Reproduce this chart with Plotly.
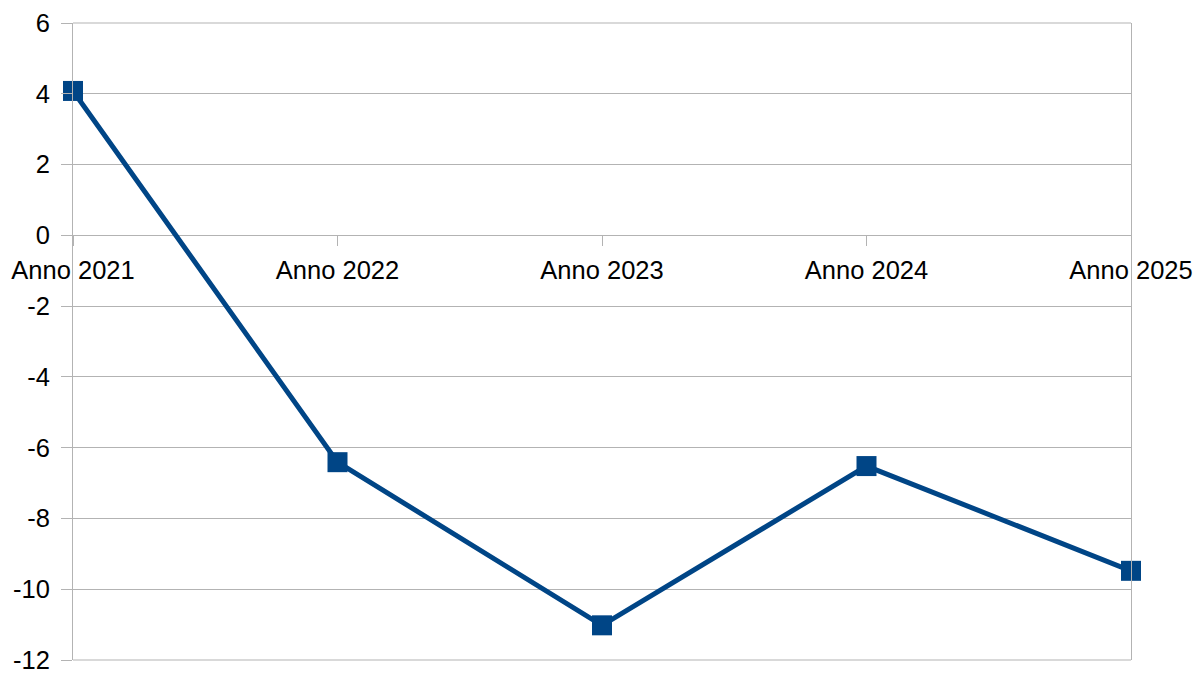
import plotly.graph_objects as go

categories = ["Anno 2021", "Anno 2022", "Anno 2023", "Anno 2024", "Anno 2025"]
values = [4.08, -6.41, -11.02, -6.52, -9.48]
y_ticks = [6, 4, 2, 0, -2, -4, -6, -8, -10, -12]
y_tick_text = ["6", "4", "2", "0", "-2", "-4", "-6", "-8", "-10", "-12"]

grid = "#b3b3b3"
font = dict(family="Liberation Sans, Arial, sans-serif", size=25.5, color="#000000")

fig = go.Figure()
fig.add_trace(go.Scatter(
    x=list(range(len(categories))), y=values,
    mode="lines+markers",
    line=dict(color="#004586", width=5),
    marker=dict(symbol="square", size=20, color="#004586"),
    cliponaxis=False,
    showlegend=False,
))

# top and bottom borders of the plot wall
for yy in (0, 1):
    fig.add_shape(type="line", xref="paper", yref="paper",
                  x0=0, x1=1, y0=yy, y1=yy,
                  line=dict(color=grid, width=1), layer="below")

fig.update_layout(
    width=1194, height=673,
    margin=dict(l=73, r=63, t=23, b=13),
    paper_bgcolor="white", plot_bgcolor="white",
    font=font,
    xaxis=dict(
        range=[0, len(categories) - 1],
        tickvals=list(range(len(categories))), ticktext=categories,
        showgrid=False, zeroline=False,
        anchor="free", position=2 / 3,
        ticks="outside", ticklen=10, tickcolor=grid, tickwidth=1,
        ticklabelstandoff=2, ticklabeloverflow="allow",
        showline=False, automargin=False,
        tickfont=font,
    ),
    yaxis=dict(
        range=[-12, 6], tickvals=y_ticks, ticktext=y_tick_text,
        showgrid=True, gridcolor=grid, gridwidth=1,
        zeroline=False,
        showline=True, linecolor=grid, linewidth=1, mirror=True,
        ticks="outside", ticklen=11, tickcolor=grid,
        ticklabelstandoff=6, ticklabeloverflow="allow", automargin=False,
        tickfont=font,
    ),
)

fig.write_html(
    "out.html",
    config={"displayModeBar": False},
    post_script="document.body.style.margin='0';document.body.style.overflow='hidden';",
)
